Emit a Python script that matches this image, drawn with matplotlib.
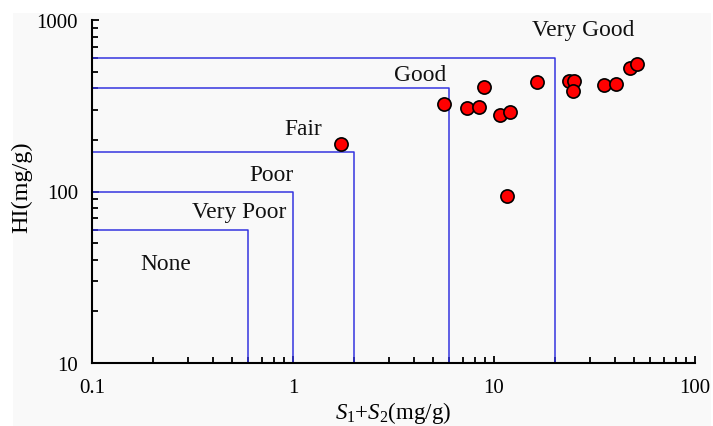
import matplotlib
matplotlib.use("Agg")
import matplotlib.pyplot as plt
from matplotlib.patches import Rectangle

plt.rcParams['font.family'] = ['Liberation Serif', 'DejaVu Serif']
plt.rcParams['mathtext.fontset'] = 'custom'
plt.rcParams['mathtext.rm'] = 'Liberation Serif'
plt.rcParams['mathtext.it'] = 'Liberation Serif:italic'

# S1+S2 (mg/g) and HI (mg/g) of the samples
s1s2 = [1.74, 5.66, 7.31, 8.39, 8.95, 10.7, 12.0, 11.6, 16.4,
        23.7, 25.0, 24.8, 35.4, 40.5, 47.5, 51.6]
hi = [190, 325, 305, 310, 407, 279, 292, 93.8, 437,
      443, 440, 385, 416, 422, 525, 554]

# source potential classes: upper limits in S1+S2 and HI
class_x = [0.6, 1, 2, 6, 20]
class_y = [60, 100, 170, 400, 600]
class_names = ["None", "Very Poor", "Poor", "Fair", "Good", "Very Good"]
name_x = [0.233, 0.538, 0.778, 1.12, 4.3, 27.7]
name_y = [37.8, 76, 125, 234, 480, 877]

W, H = 713, 427
fig = plt.figure(figsize=(W / 100, H / 100), dpi=100, facecolor='white')
fig.patches.append(Rectangle((13 / W, 0), (711 - 13) / W, (H - 14) / H,
                             transform=fig.transFigure, facecolor='#f9f9f9',
                             edgecolor='none', zorder=-10))

ax = fig.add_axes([92 / W, (H - 364) / H, (695 - 92) / W, (364 - 21) / H])
ax.set_facecolor('none')
ax.set_xscale('log')
ax.set_yscale('log')
ax.set_xlim(0.1, 100)
ax.set_ylim(10, 1000)

for xv, yv in zip(class_x, class_y):
    ax.plot([0.1, xv, xv], [yv, yv, 10], color='#3434e0', lw=1.1, zorder=2)

for t, xv, yv in zip(class_names, name_x, name_y):
    ax.text(xv, yv, t, fontsize=16.8, ha='center', va='center', color='#111111')

ax.plot(s1s2, hi, 'o', ms=9.5, mfc='#ff0000', mec='black', mew=1.2,
        zorder=3, clip_on=False)

for side in ('top', 'right'):
    ax.spines[side].set_visible(False)
for side in ('left', 'bottom'):
    ax.spines[side].set_linewidth(1.5)

ax.tick_params(which='both', direction='in', width=1.3, labelsize=15,
               colors='black')
ax.tick_params(which='major', length=5, pad=11)
ax.tick_params(which='minor', length=4)
ax.tick_params(axis='y', which='major', pad=10)
ax.set_xticks([0.1, 1, 10, 100])
ax.set_xticklabels(['0.1', '1', '10', '100'])
ax.set_yticks([10, 100, 1000])
ax.set_yticklabels(['10', '100', '1000'])

ax.set_xlabel(r'$S_1$+$S_2$(mg/g)', fontsize=16.5, va='bottom')
ax.xaxis.set_label_coords(0.5, -(427 - 364 - 1) / (364 - 21))
ax.set_ylabel('HI(mg/g)', fontsize=17.5)
ax.yaxis.set_label_coords(-0.0995, 0.515)

fig.savefig('out.png', dpi=100)
